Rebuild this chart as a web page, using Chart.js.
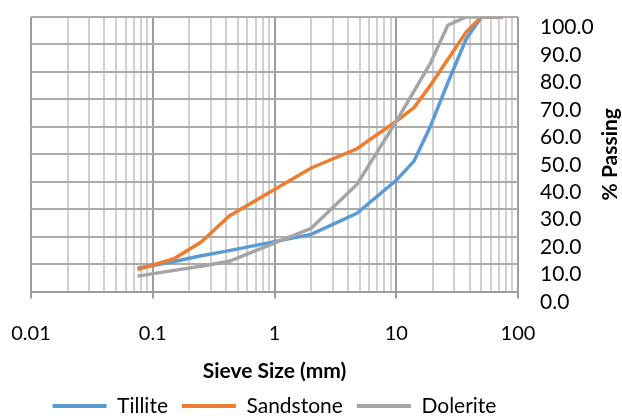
<!doctype html>
<html lang="en">
<head>
<meta charset="utf-8">
<title>Sieve analysis</title>
<style>
  body { margin: 0; background: #fff; }
  #wrap { width: 622px; height: 419px; }
</style>
<script src="https://cdn.jsdelivr.net/npm/chart.js"></script>
</head>
<body>
<div id="wrap"><canvas id="sieveChart"></canvas></div>
<script>
// sieve sizes (mm) and % passing
const sieveSizes = [0.075, 0.15, 0.25, 0.425, 2, 4.75, 10, 14, 19, 26.5, 37.5, 50, 75];
const tillite    = [8.5, 10.9, 13, 14.9, 20.8, 28.5, 40.5, 47.5, 60, 76, 92, 100, 100];
const sandstone  = [8, 12, 18, 27.5, 45, 52, 62, 67, 75, 84.5, 94.5, 100, 100];
const dolerite   = [5.6, 7.7, 9.2, 11, 23, 39, 62, 73, 83, 97, 100, 100, 100];
const xTickLabels = [0.01, 0.1, 1, 10, 100];

const FONT = 'Lato, "Liberation Sans", sans-serif';
const majorSet = new Set(xTickLabels);

function toPoints(values) {
    return sieveSizes.map((s, i) => ({x: s, y: values[i]}));
}

// "% Passing" reads bottom-to-top on the right side, so draw it ourselves
const yTitle = {
    id: 'yTitle',
    afterDraw(chart) {
        const {ctx, chartArea} = chart;
        ctx.save();
        ctx.translate(610, (chartArea.top + chartArea.bottom) / 2);
        ctx.rotate(-Math.PI / 2);
        ctx.font = 'bold 21px ' + FONT;
        ctx.fillStyle = '#000';
        ctx.textAlign = 'center';
        ctx.textBaseline = 'middle';
        ctx.fillText('% Passing', 0, 0);
        ctx.restore();
    }
};

const ctx = document.getElementById('sieveChart').getContext('2d');
new Chart(ctx, {
    type: 'scatter',
    data: {
        datasets: [
            {label: 'Tillite', data: toPoints(tillite), borderColor: '#5B9BD5', backgroundColor: '#5B9BD5', order: 2},
            {label: 'Sandstone', data: toPoints(sandstone), borderColor: '#ED7D31', backgroundColor: '#ED7D31', order: 1},
            {label: 'Dolerite', data: toPoints(dolerite), borderColor: '#A5A5A5', backgroundColor: '#A5A5A5', order: 0}
        ]
    },
    options: {
        responsive: true,
        maintainAspectRatio: false,
        animation: false,
        showLine: true,
        elements: {
            line: {borderWidth: 3.5, tension: 0},
            point: {radius: 0, hoverRadius: 0}
        },
        layout: {padding: {top: 17, left: 31, right: 0, bottom: -7.5}},
        scales: {
            x: {
                type: 'logarithmic',
                min: 0.01,
                max: 100,
                afterBuildTicks(scale) {
                    const ticks = [];
                    for (let i = 0; i < xTickLabels.length - 1; i++) {
                        const d = xTickLabels[i];
                        ticks.push({value: d});
                        for (let m = 2; m <= 9; m++) ticks.push({value: m * d});
                    }
                    ticks.push({value: xTickLabels[xTickLabels.length - 1]});
                    scale.ticks = ticks;
                },
                afterFit(scale) { scale.paddingLeft = 0; scale.paddingRight = 0; },
                ticks: {
                    autoSkip: false,
                    maxRotation: 0,
                    padding: 23,
                    color: '#000',
                    font: {family: FONT, size: 20},
                    callback: (v) => majorSet.has(v) ? String(v) : ''
                },
                grid: {
                    color: (c) => majorSet.has(c.tick && c.tick.value) ? '#9c9c9c' : '#d0d0d0',
                    tickColor: (c) => majorSet.has(c.tick && c.tick.value) ? '#9c9c9c' : 'rgba(0,0,0,0)',
                    tickLength: 7,
                    lineWidth: 2
                },
                border: {color: '#9c9c9c', width: 2},
                title: {
                    display: true,
                    text: 'Sieve Size (mm)',
                    color: '#000',
                    font: {family: FONT, size: 21, weight: 'bold', lineHeight: 1},
                    padding: {top: -8, bottom: 0}
                }
            },
            y: {
                position: 'right',
                min: 0,
                max: 100,
                afterFit(scale) {
                    scale.width = 104;
                    scale.paddingTop = 0;
                    scale.paddingBottom = 0;
                },
                ticks: {
                    stepSize: 10,
                    autoSkip: false,
                    padding: 22,
                    align: 'start',
                    color: '#000',
                    font: {family: FONT, size: 21},
                    callback: (v) => v.toFixed(1)
                },
                grid: {color: '#ababab', lineWidth: 2, drawTicks: false},
                border: {display: false}
            }
        },
        plugins: {
            tooltip: {enabled: false},
            legend: {
                position: 'bottom',
                fullSize: false,
                labels: {
                    sort: (a, b) => a.datasetIndex - b.datasetIndex,
                    generateLabels: (chart) => Chart.defaults.plugins.legend.labels.generateLabels(chart)
                        .map(l => Object.assign(l, {lineWidth: 0})),
                    boxWidth: 54,
                    boxHeight: 4,
                    padding: 14,
                    color: '#000',
                    font: {family: FONT, size: 21, lineHeight: 1}
                }
            }
        }
    },
    plugins: [yTitle]
});
</script>
</body>
</html>
